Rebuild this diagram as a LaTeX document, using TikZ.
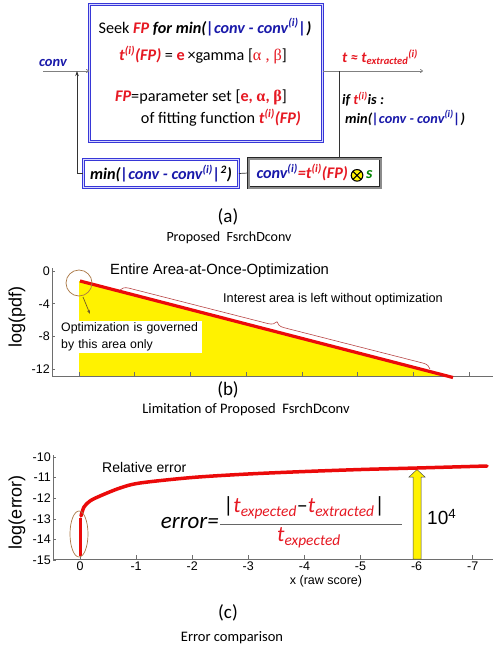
\documentclass[tikz,border=0pt]{standalone}
\usepackage{fontspec}
\setmainfont{Carlito}
\newfontfamily\arialf{Liberation Sans}
\newfontfamily\greekf{Liberation Serif}
\usetikzlibrary{decorations.pathreplacing,arrows.meta,calc}
\definecolor{myred}{RGB}{230,25,35}
\definecolor{myblue}{RGB}{25,25,170}
\definecolor{boxblue}{RGB}{55,55,215}
\definecolor{lav}{RGB}{215,215,255}
\definecolor{plotred}{RGB}{235,10,10}
\definecolor{brownc}{RGB}{170,120,70}
\definecolor{olivec}{RGB}{110,90,40}
\definecolor{bracec}{RGB}{185,70,70}
\definecolor{axisg}{RGB}{110,110,110}
\definecolor{mygreen}{RGB}{0,130,0}
\newcommand\rbi[1]{\textcolor{myred}{\bfseries\itshape #1}}
\newcommand\bbi[1]{\textcolor{myblue}{\bfseries\itshape #1}}
\newcommand\kbi[1]{{\bfseries\itshape #1}}
\newcommand\supi{\textsuperscript{(i)}}
\newcommand\otim{\tikz[baseline=-3.6pt]{\draw[fill=yellow,line width=1.1pt] (0pt,0pt) circle (5.8pt);\draw[line width=1.1pt] (-4pt,-4pt)--(4pt,4pt) (-4pt,4pt)--(4pt,-4pt);}}
\tikzset{
  bluebox/.style={draw=boxblue, double=lav, double distance=1.4pt, line width=0.9pt, inner sep=0pt},
  graybox/.style={draw=black!85, double=black!45, double distance=2pt, line width=0.8pt, inner sep=0pt},
  toptext/.style={font=\fontsize{16.2}{18}\selectfont, inner sep=0pt},
  sidetext/.style={font=\fontsize{14.3}{16}\selectfont, inner sep=0pt, anchor=west},
  ticklab/.style={font=\arialf\fontsize{12}{14}\selectfont, inner sep=0pt},
  axline/.style={draw=axisg, line width=0.6pt},
  conn/.style={draw=black!80, line width=0.7pt},
  gconn/.style={draw=black!50, line width=0.7pt},
  caption/.style={font=\fontsize{19}{21}\selectfont, inner sep=0pt},
  subcap/.style={font=\fontsize{14}{16}\selectfont, inner sep=0pt}
}
\begin{document}
\begin{tikzpicture}[x=1pt,y=-1pt]
\useasboundingbox (0,0) rectangle (496,648);
\fill[white] (0,0) rectangle (496,648);

% ---------- (a) block diagram ----------
\node[bluebox, minimum width=233pt, minimum height=137pt] (mainbox) at (206,73) {};
\node[toptext] (l1) at (205,27) {Seek \rbi{FP} \kbi{for min(}\bbi{|conv - conv\supi|}\kbi{)}};
\node[toptext] (l2) at (203,55) {\rbi{t\supi(FP)} = \textcolor{myred}{\bfseries e}\,\texttimes gamma [\textcolor{myred}{\greekf α , β}]};
\node[toptext] (l3) at (201,97) {\rbi{FP}=parameter set [\textcolor{myred}{\bfseries e, {\greekf α}, {\greekf β}}]};
\node[toptext] (l4) at (221,118) {of fitting function \rbi{t\supi(FP)}};

\node[bluebox, minimum width=155pt, minimum height=28pt] (minbox) at (161,173.5)
  {\fontsize{16.2}{18}\selectfont\kbi{min(}\bbi{|conv - conv\supi|}\kbi{\textsuperscript{2})}};
\node[graybox, minimum width=132pt, minimum height=29pt] (convbox) at (314.5,173)
  {\fontsize{16.2}{18}\selectfont\bbi{conv\supi}\rbi{=t\supi(FP)}\,\otim\,\textcolor{mygreen}{\bfseries\itshape s}};

\node[toptext, font=\fontsize{14.5}{16}\selectfont] (convin) at (53,63) {\bbi{conv}};
\node[toptext, font=\fontsize{15}{17}\selectfont] (tout) at (380,57) {\rbi{t ≈ t\textsubscript{extracted}\supi}};
\node[sidetext] (ift) at (342,99) {\kbi{if }\rbi{t\supi}\kbi{is :}};
\node[sidetext] (minr) at (345,118) {\kbi{min(}\bbi{|conv - conv\supi|}\kbi{)}};

\coordinate (inL) at (43,71);
\coordinate (fb) at (77,71);
\coordinate (outR) at (423,71);
\coordinate (br) at (339,71);
\draw[gconn, -{To[length=3pt,width=4pt]}] (inL) -- (inL -| mainbox.west);
\draw[conn, -{Stealth[length=5pt,width=3.5pt]}] (minbox.west) -| (fb);
\draw[gconn, -{To[length=3pt,width=4pt]}] (mainbox.east |- outR) -- (outR);
\draw[conn] (br) -- (br |- convbox.north);
\draw[conn] (minbox.east) -- (convbox.west);

\node[caption] (capa) at (228,217) {(a)};
\node[subcap] (tita) at (229,238) {Proposed\ \ FsrchDconv};

% ---------- (b) plot ----------
\fill[yellow] (79,281) -- (452,377) -- (79,376) -- cycle;
\node[fill=white, inner sep=2pt, anchor=north west, text width=139pt, align=left,
  font=\arialf\fontsize{12.3}{16.5}\selectfont] (optbox) at (59,320.5) {Optimization is governed\\by this area only};
\draw[axline] (52,268) -- (52,376) -- (493,376);
\foreach \k in {0,...,7} \draw[axline] ({79+55.7*\k},376) -- ++(0,-4);
\foreach \yy/\lab in {271/0, 303.7/-4, 336.3/-8, 369/-12} {
  \draw[axline] (52,\yy) -- ++(3,0);
  \node[ticklab, font=\arialf\fontsize{12.5}{14}\selectfont, anchor=east] at (50,\yy) {\lab};
}
\draw[plotred, line width=3.2pt] (80,281) -- (453,377.5);
\draw[brownc, line width=0.7pt] (79,283) circle (13pt);
\draw[olivec, line width=0.7pt, -{Stealth[length=4pt,width=3pt]}] (83,297) -- (90,314);
\draw[bracec, line width=0.6pt, decorate, decoration={brace, amplitude=8pt}] (120,290) -- (430,369);
\node[anchor=west, inner sep=0pt, font=\arialf\fontsize{14.8}{17}\selectfont] (entire) at (110,271) {Entire Area-at-Once-Optimization};
\node[anchor=west, inner sep=0pt, font=\arialf\fontsize{12.7}{15}\selectfont] (interest) at (223,299) {Interest area is left without optimization};
\node[rotate=90, inner sep=0pt, font=\arialf\fontsize{18}{20}\selectfont] (ylabb) at (17,317) {log(pdf)};

\node[caption] (capb) at (228,390) {(b)};
\node[subcap, font=\fontsize{14.5}{16}\selectfont] (titb) at (246,410) {Limitation of Proposed\ \ FsrchDconv};

% ---------- (c) plot ----------
\draw[axline] (53,455) -- (53,559) -- (493,559);
\foreach \k/\lab in {0/0,1/-1,2/-2,3/-3,4/-4,5/-5,6/-6,7/-7} {
  \draw[axline] ({80+56.1*\k},559) -- ++(0,-4);
  \node[ticklab, font=\arialf\fontsize{12.5}{14}\selectfont, anchor=north] at ({80+56.1*\k},561.5) {\lab};
}
\foreach \k/\lab in {0/-10,1/-11,2/-12,3/-13,4/-14,5/-15} {
  \draw[axline] (53,{457+20.6*\k}) -- ++(3,0);
  \node[ticklab, font=\arialf\fontsize{12.5}{14}\selectfont, anchor=east] at (51,{457+20.6*\k}) {\lab};
}
\fill[yellow, draw=black!70, line width=0.5pt] (413,559) -- (413,477) -- (409,477) -- (417,469.5) -- (425,477) -- (421,477) -- (421,559) -- cycle;
\draw[plotred, line width=3pt] (80,556) -- (80,518);
\draw[plotred, line width=3.5pt, line cap=round] plot[smooth] coordinates {(81,516) (84,507) (90,501) (100,496) (120,488) (140,483) (192,477.5) (248,474) (305,471.5) (361,469.5) (417,468) (487,466)};
\draw[brownc, line width=0.7pt] (79,534) ellipse [x radius=9pt, y radius=23pt];
\node[anchor=west, inner sep=0pt, font=\arialf\fontsize{14}{16}\selectfont] (relerr) at (102,467) {Relative error};
\node[anchor=north, inner sep=0pt, font=\arialf\fontsize{12.5}{15}\selectfont] (xlab) at (326,575) {x (raw score)};
\node[rotate=90, inner sep=0pt, font=\arialf\fontsize{18}{20}\selectfont] (ylabc) at (17,512) {log(error)};
\node[anchor=west, inner sep=0pt, font=\arialf\fontsize{19}{21}\selectfont] (tenfour) at (427,517) {10\textsuperscript{4}};

\node[anchor=east, inner sep=0pt, font=\itshape\fontsize{23}{25}\selectfont] (err) at (219,523) {error=};
\node[inner sep=0pt, font=\fontsize{22}{24}\selectfont] (num) at (304,508) {|\textcolor{myred}{\itshape t\textsubscript{expected}}–\textcolor{myred}{\itshape t\textsubscript{extracted}}|};
\draw[black!60, line width=0.6pt] (220,524) -- (402,524);
\node[inner sep=0pt, font=\fontsize{22}{24}\selectfont] (den) at (309,538) {\textcolor{myred}{\itshape t\textsubscript{expected}}};

\node[caption] (capc) at (228,613) {(c)};
\node[subcap, font=\fontsize{14.5}{16}\selectfont] (titc) at (232,638) {Error comparison};
\end{tikzpicture}
\end{document}
